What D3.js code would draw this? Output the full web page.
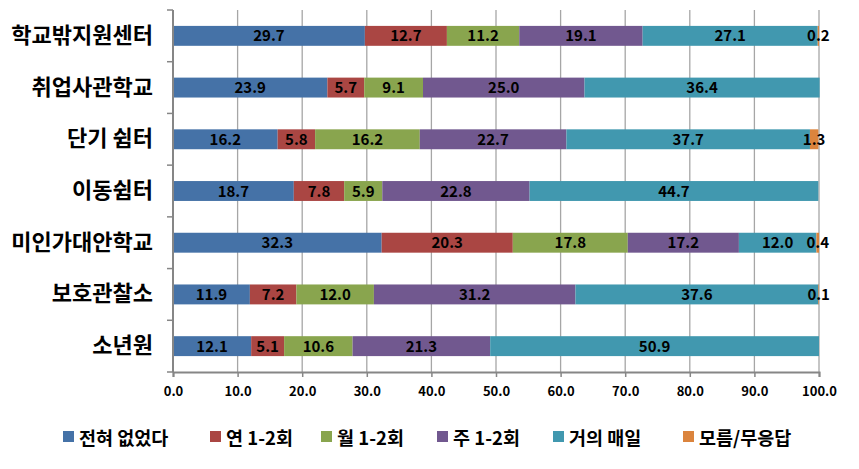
<!DOCTYPE html>
<html><head><meta charset="utf-8">
<script src="https://cdn.jsdelivr.net/npm/d3@7"></script>
<style>body{margin:0;background:#fff}</style>
</head><body>
<svg id="c" width="859" height="469"></svg>
<script>
const categories = ["학교밖지원센터","취업사관학교","단기 쉼터","이동쉼터","미인가대안학교","보호관찰소","소년원"];
const seriesNames = ["전혀 없었다","연 1-2회","월 1-2회","주 1-2회","거의 매일","모름/무응답"];
const s1 = [29.7, 23.9, 16.2, 18.7, 32.3, 11.9, 12.1];
const s2 = [12.7, 5.7, 5.8, 7.8, 20.3, 7.2, 5.1];
const s3 = [11.2, 9.1, 16.2, 5.9, 17.8, 12.0, 10.6];
const s4 = [19.1, 25.0, 22.7, 22.8, 17.2, 31.2, 21.3];
const s5 = [27.1, 36.4, 37.7, 44.7, 12.0, 37.6, 50.9];
const s6 = [0.2, 0, 1.3, 0, 0.4, 0.1, 0];
const xTicks = [0,10,20,30,40,50,60,70,80,90,100];
const colors = ["#4572A7","#AA4643","#89A54E","#71588F","#4198AF","#DB843D"];

const series = [s1,s2,s3,s4,s5,s6];
const svg = d3.select("#c");
const L = 173, R = 819, T = 10, B = 372;
const x = d3.scaleLinear().domain([0,100]).range([L,R]);
const y = d3.scaleBand().domain(categories).range([T,B]).paddingInner(0.615).paddingOuter(0.3075);
const font = "'Noto Sans CJK KR', 'Noto Sans', sans-serif";

// gridlines
svg.append("g").selectAll("line").data(xTicks.slice(1)).join("line")
  .attr("x1", d=>x(d)).attr("x2", d=>x(d)).attr("y1", T).attr("y2", B)
  .attr("stroke", "#a6a6a6").attr("stroke-width", 1.3);

// bars
const rows = categories.map((c,i)=>{ let acc=0; return series.map((s,k)=>{ const v=s[i]; const o={cat:c,k,v,x0:acc,x1:acc+v}; acc+=v; return o;}); });
const g = svg.append("g");
rows.forEach(r=>{
  g.selectAll(null).data(r.filter(d=>d.v>0)).join("rect")
    .attr("x", d=>x(d.x0)).attr("width", d=>x(d.x1)-x(d.x0))
    .attr("y", d=>y(d.cat)).attr("height", y.bandwidth())
    .attr("fill", d=>colors[d.k]);
});
rows.forEach(r=>{
  g.selectAll(null).data(r.filter(d=>d.v>0)).join("text")
    .attr("x", d=>x((d.x0+d.x1)/2)).attr("y", d=>y(d.cat)+y.bandwidth()/2+5.5)
    .attr("text-anchor","middle").attr("font-family", font).attr("font-weight","bold")
    .attr("font-size", 15).attr("fill","#000").text(d=>d.v.toFixed(1));
});

// x axis
const xa = svg.append("g").attr("transform", `translate(0,${B})`)
  .call(d3.axisBottom(x).tickValues(xTicks).tickFormat(d=>d.toFixed(1)).tickSize(5).tickPadding(10));
xa.select(".domain").attr("stroke","#868686").attr("stroke-width",2);
xa.selectAll(".tick line").attr("stroke","#868686").attr("stroke-width",1.5);
xa.selectAll("text").attr("font-family", font).attr("font-weight","bold").attr("font-size",13).attr("fill","#000");

// y axis
const ya = svg.append("g").attr("transform", `translate(${L},0)`)
  .call(d3.axisLeft(y).tickSize(0).tickPadding(20));
ya.select(".domain").attr("stroke","#868686").attr("stroke-width",2).attr("d", `M0,${T}V${B}`);
ya.selectAll("text").attr("font-family", font).attr("font-weight","bold").attr("font-size",22).attr("fill","#000");
const bnd = d3.range(categories.length+1).map(i=>T + i*(B-T)/categories.length);
ya.selectAll(".sep").data(bnd).join("line").attr("class","sep")
  .attr("x1",-6).attr("x2",0).attr("y1",d=>d).attr("y2",d=>d).attr("stroke","#868686").attr("stroke-width",1.5);

// legend
const legX = [63, 210, 321, 437, 553, 683];
const lg = svg.append("g");
seriesNames.forEach((n,i)=>{
  lg.append("rect").attr("x", legX[i]).attr("y", 431).attr("width", 11).attr("height", 11).attr("fill", colors[i]);
  lg.append("text").attr("x", legX[i]+16).attr("y", 445).attr("font-family", font).attr("font-weight","bold")
    .attr("font-size",18.5).attr("fill","#000").text(n);
});
</script>
</body></html>
